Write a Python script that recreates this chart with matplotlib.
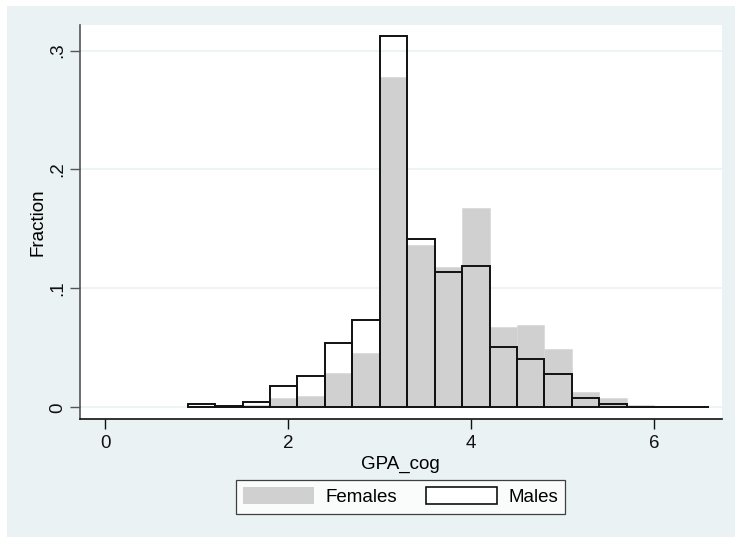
import numpy as np
import matplotlib
matplotlib.use("Agg")
import matplotlib.pyplot as plt
from matplotlib.patches import Rectangle, Patch

plt.rcParams['font.family'] = ['Liberation Sans', 'DejaVu Sans']

# Histogram bins (left edges) and width
bin_start = 0.9
bin_width = 0.3
n_bins = 19
# Fractions
females = [0.001, 0.0005, 0.002, 0.0076, 0.0098, 0.0286, 0.046, 0.2775, 0.1368,
           0.118, 0.1674, 0.0678, 0.0692, 0.0488, 0.0126, 0.0078, 0.0017, 0.001, 0.0005]
males = [0.0025, 0.0014, 0.0047, 0.0179, 0.0266, 0.0538, 0.0734, 0.312, 0.1413,
         0.1138, 0.119, 0.051, 0.0406, 0.0277, 0.0076, 0.0030, 0.0006, 0.0005, 0.0003]
xticks = [0, 2, 4, 6]
yticks = [0, 0.1, 0.2, 0.3]
ytick_labels = ['0', '.1', '.2', '.3']

FS = 13.5
W, H = 735, 537
fig = plt.figure(figsize=(W / 100, H / 100), dpi=100)
fig.patch.set_facecolor('white')
bg = '#EAF2F3'
fig.patches.append(Rectangle((7 / W, 0), 1 - 7 / W, 1 - 6 / H, transform=fig.transFigure,
                             facecolor=bg, edgecolor='none', zorder=-10))

ax = fig.add_axes([80 / W, 1 - 419.3 / H, (721.7 - 80) / W, (419.3 - 25) / H])
ax.set_facecolor('white')

edges = bin_start + bin_width * np.arange(n_bins)
ax.bar(edges, females, width=bin_width, align='edge', color='#D0D0D0',
       edgecolor='#D8D8D8', linewidth=0.5, zorder=2)
ax.bar(edges, males, width=bin_width, align='edge', facecolor='none',
       edgecolor='#111111', linewidth=1.4, zorder=3)

ax.set_xlim(-0.2765, 6.737)
ax.set_ylim(-0.0101, 0.3215)
ax.set_xticks(xticks)
ax.set_xticklabels([str(t) for t in xticks])
ax.set_yticks(yticks)
ax.set_yticklabels(ytick_labels, rotation=90, va='center')
for y in yticks:
    ax.axhline(y, color='#EAF2F3', linewidth=1.2, zorder=1)

for s in ['top', 'right']:
    ax.spines[s].set_visible(False)
ax.spines['left'].set_color('#555555')
ax.spines['bottom'].set_color('#111111')
ax.spines['left'].set_linewidth(1.2)
ax.spines['bottom'].set_linewidth(1.2)
ax.tick_params(axis='both', length=7, width=1.0, labelsize=FS, colors='#111111', pad=4)
ax.tick_params(axis='y', colors='#555555', labelcolor='#111111', pad=3)

ax.set_xlabel('GPA_cog', fontsize=FS, labelpad=3)
ax.set_ylabel('Fraction', fontsize=FS, labelpad=2)

# Legend
handles = [Patch(facecolor='#D0D0D0', edgecolor='none', label='Females'),
           Patch(facecolor='white', edgecolor='#111111', linewidth=1.2, label='Males')]
leg = fig.legend(handles=handles, loc='center', ncol=2,
                 bbox_to_anchor=(400.5 / W, 1 - 496.7 / H), frameon=True, fancybox=False,
                 fontsize=FS, handlelength=3.79, handleheight=1.0, columnspacing=1.55,
                 handletextpad=0.59, borderpad=0.4, borderaxespad=0)
leg.get_frame().set_edgecolor('#111111')
leg.get_frame().set_linewidth(0.9)

fig.savefig('out.png', dpi=100, facecolor=fig.get_facecolor())
